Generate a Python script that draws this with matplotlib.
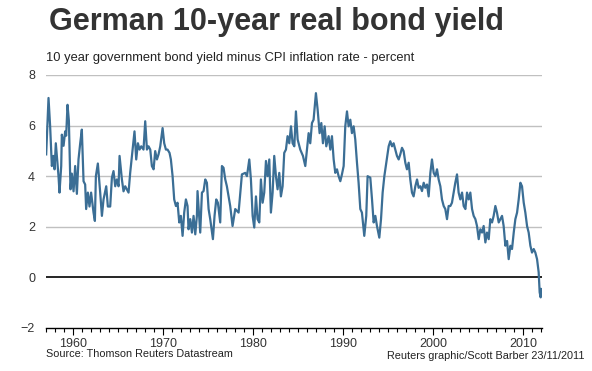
import matplotlib.pyplot as plt
import numpy as np

# decimal years and real yield (percent)
years = [
    1957.0, 1957.26, 1957.44, 1957.63, 1957.81, 1957.93, 1958.07, 1958.26, 1958.37, 1958.48,
    1958.67, 1958.74, 1958.93, 1959.11, 1959.22, 1959.37, 1959.52, 1959.7, 1959.85, 1960.04,
    1960.22, 1960.41, 1960.59, 1960.78, 1960.96, 1961.15, 1961.33, 1961.44, 1961.63, 1961.81,
    1961.99, 1962.26, 1962.41, 1962.52, 1962.74, 1963.0, 1963.19, 1963.37, 1963.67, 1963.85,
    1964.11, 1964.3, 1964.48, 1964.67, 1964.85, 1965.04, 1965.15, 1965.41, 1965.59, 1965.78,
    1965.96, 1966.15, 1966.33, 1966.63, 1966.81, 1967.0, 1967.19, 1967.37, 1967.56, 1967.81,
    1968.0, 1968.19, 1968.37, 1968.56, 1968.74, 1968.93, 1969.11, 1969.3, 1969.48, 1969.67,
    1969.93, 1970.11, 1970.3, 1970.48, 1970.7, 1970.85, 1971.04, 1971.22, 1971.41, 1971.59,
    1971.78, 1971.96, 1972.15, 1972.33, 1972.52, 1972.7, 1972.81, 1973.0, 1973.19, 1973.37,
    1973.56, 1973.74, 1973.81,
    1974.11, 1974.3, 1974.48, 1974.67, 1974.85, 1975.04, 1975.22, 1975.52, 1975.7, 1975.89,
    1976.07, 1976.33, 1976.52, 1976.7, 1976.89, 1977.07, 1977.44, 1977.7, 1978.0, 1978.37,
    1978.74, 1979.11, 1979.3, 1979.56, 1979.74, 1979.93, 1980.11, 1980.3, 1980.48, 1980.67,
    1980.85, 1981.04, 1981.22, 1981.41, 1981.59, 1981.78, 1981.96, 1982.15, 1982.33, 1982.52,
    1982.7, 1982.89, 1983.07, 1983.26, 1983.44, 1983.63, 1983.81, 1984.0, 1984.19, 1984.37,
    1984.56, 1984.74, 1984.93, 1985.22, 1985.52, 1985.78, 1985.96, 1986.15, 1986.33, 1986.52,
    1986.7, 1986.96, 1987.15, 1987.37, 1987.56, 1987.74, 1987.93, 1988.11, 1988.37, 1988.56,
    1988.74, 1988.93, 1989.11, 1989.3, 1989.48, 1989.67, 1989.85, 1990.04, 1990.22, 1990.41,
    1990.59, 1990.78, 1990.96, 1991.15, 1991.33, 1991.52, 1991.7, 1991.89,
    1992.07, 1992.33, 1992.55, 1992.7, 1993.0, 1993.19, 1993.37, 1993.56, 1993.74, 1994.0,
    1994.19, 1994.37, 1994.56, 1994.78, 1995.04, 1995.22, 1995.41, 1995.59, 1995.78, 1995.96,
    1996.15, 1996.33, 1996.52, 1996.7, 1996.89, 1997.07, 1997.26, 1997.44, 1997.63, 1997.81,
    1998.0, 1998.19, 1998.37, 1998.56, 1998.74, 1998.93, 1999.11, 1999.3, 1999.48, 1999.67,
    1999.85, 2000.04, 2000.22, 2000.41, 2000.59, 2000.78, 2000.96, 2001.15, 2001.33, 2001.52,
    2001.7, 2001.89, 2002.07, 2002.26, 2002.44, 2002.63, 2002.81, 2003.0, 2003.19, 2003.37,
    2003.56, 2003.74, 2003.93, 2004.11, 2004.3, 2004.48, 2004.67, 2004.85, 2005.04, 2005.22,
    2005.41, 2005.59, 2005.78, 2005.96, 2006.15, 2006.33, 2006.52, 2006.7, 2006.89, 2007.07,
    2007.26, 2007.44, 2007.63, 2007.81, 2008.0, 2008.19, 2008.37, 2008.56, 2008.74, 2008.93,
    2009.11, 2009.3, 2009.48, 2009.67, 2009.85, 2010.04, 2010.22, 2010.41, 2010.59, 2010.78,
    2010.96, 2011.15, 2011.33, 2011.52, 2011.7, 2011.81, 2011.92, 2011.99,
]
yields = [
    4.86, 7.09, 5.97, 4.4, 4.8, 4.27, 5.3, 4.5, 4.0, 3.35,
    4.4, 5.64, 5.2, 5.77, 5.6, 6.82, 6.2, 3.48, 4.1, 3.4,
    4.4, 3.3, 4.66, 5.3, 5.84, 3.8, 3.67, 2.7, 3.35, 2.8,
    3.35, 2.56, 2.23, 4.0, 4.5, 3.35, 2.43, 3.08, 3.6, 2.8,
    2.8, 3.94, 4.2, 3.6, 3.87, 3.6, 4.8, 3.87, 3.4, 3.6,
    3.48, 3.35, 4.13, 5.18, 5.77, 4.66, 5.3, 5.05, 5.18, 5.05,
    6.17, 5.05, 5.18, 5.05, 4.4, 4.27, 4.99, 4.66, 4.86, 5.18,
    5.9, 5.3, 5.05, 5.05, 4.92, 4.66, 4.0, 3.08, 2.82, 2.95,
    2.17, 2.43, 1.64, 2.56, 3.08, 2.82, 1.9, 2.3, 1.77, 2.43,
    1.7, 2.43, 3.41,
    1.77, 3.35, 3.41, 3.87, 3.74, 2.7, 2.3, 1.51, 2.43, 3.08,
    2.95, 2.17, 4.4, 4.33, 3.87, 3.6, 2.82, 2.03, 2.7, 2.56,
    4.07, 4.13, 4.0, 4.66, 3.87, 2.43, 1.97, 3.2, 2.3, 2.17,
    3.87, 2.95, 3.35, 4.6, 4.0, 4.66, 2.56, 3.35, 4.8, 4.0,
    3.48, 4.13, 3.2, 3.6, 4.92, 5.05, 5.58, 5.3, 5.97, 5.3,
    5.18, 6.56, 5.45, 5.05, 4.8, 4.4, 5.05, 5.7, 5.3, 6.1,
    6.23, 7.28, 6.63, 5.7, 6.1, 5.3, 5.97, 5.18, 5.58, 5.05,
    5.58, 4.66, 4.13, 4.27, 4.0, 3.8, 4.07, 4.4, 5.97, 6.56,
    5.97, 6.23, 5.7, 5.97, 5.45, 4.53, 3.74, 2.7,
    2.56, 1.64, 2.43, 4.0, 3.94, 3.08, 2.17, 2.43, 2.03, 1.57,
    2.3, 3.35, 4.0, 4.53, 5.18, 5.38, 5.18, 5.3, 5.05, 4.8,
    4.66, 4.86, 5.12, 4.99, 4.53, 4.27, 4.53, 3.87, 3.35, 3.2,
    3.6, 3.87, 3.54, 3.6, 3.41, 3.74, 3.54, 3.67, 3.2, 4.13,
    4.66, 4.13, 4.0, 4.27, 3.87, 3.6, 3.08, 2.82, 2.7, 2.3,
    2.82, 2.82, 2.95, 3.35, 3.74, 4.07, 3.35, 3.08, 3.35, 2.82,
    2.7, 3.35, 3.08, 3.35, 2.7, 2.43, 2.3, 2.03, 1.51, 1.9,
    1.77, 2.03, 1.38, 1.77, 1.51, 2.3, 2.17, 2.43, 2.82, 2.56,
    2.17, 2.3, 2.43, 2.03, 1.25, 1.44, 0.72, 1.25, 1.12, 1.77,
    2.3, 2.56, 3.08, 3.74, 3.6, 2.95, 2.56, 2.03, 1.77, 1.25,
    0.98, 1.12, 0.98, 0.72, 0.2, -0.59, -0.79, -0.46,
]

yticks = [-2, 0, 2, 4, 6, 8]
xticks = [1960, 1970, 1980, 1990, 2000, 2010]

plt.rcParams['font.family'] = ['Liberation Sans', 'DejaVu Sans']

fig = plt.figure(figsize=(5.92, 3.71), dpi=100)
ax = fig.add_axes([0.078, 0.116, 0.838, 0.682])

for v in yticks[2:]:
    ax.axhline(v, color='#c0c0c0', lw=1, zorder=1)
ax.axhline(0, color='black', lw=1.2, zorder=2)

ax.plot(years, yields, color='#3b6e95', lw=1.6, zorder=3)

ax.set_xlim(1957, 2012.1)
ax.set_ylim(-2, 8)
ax.set_yticks(yticks)
ax.set_xticks(xticks)
ax.set_xticks(np.arange(1957, 2013), minor=True)

for s in ['top', 'right', 'left']:
    ax.spines[s].set_visible(False)
ax.spines['bottom'].set_color('black')
ax.spines['bottom'].set_linewidth(1)

ax.tick_params(axis='y', length=0, pad=8, labelsize=9, labelcolor='#333333')
ax.tick_params(axis='x', which='major', length=5, width=0.8, pad=2,
               labelsize=9, labelcolor='#333333')
ax.tick_params(axis='x', which='minor', length=3, width=0.8)

fig.text(0.082, 0.942, "German 10-year real bond yield", fontsize=22,
         fontweight='bold', color='#333333', va='center', ha='left')
fig.text(0.077, 0.843, "10 year government bond yield minus CPI inflation rate - percent",
         fontsize=9.3, color='#222222', va='center', ha='left')
fig.text(0.077, 0.045, "Source: Thomson Reuters Datastream",
         fontsize=7.8, color='#222222', va='center', ha='left')
fig.text(0.988, 0.040, "Reuters graphic/Scott Barber 23/11/2011",
         fontsize=7.8, color='#222222', va='center', ha='right')

fig.savefig('out.png', dpi=100)
